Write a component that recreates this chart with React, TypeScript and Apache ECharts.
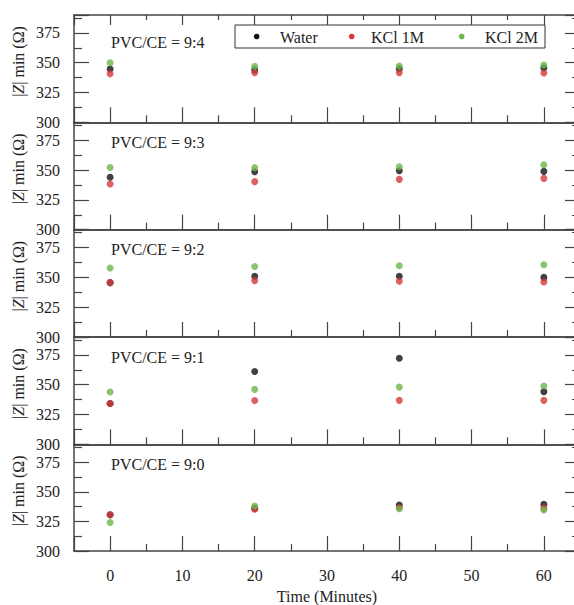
import React, { useEffect, useRef } from 'react';
import * as echarts from 'echarts';

// ---- data ----
const times = [0, 20, 40, 60];
const panelLabels = ['PVC/CE = 9:4', 'PVC/CE = 9:3', 'PVC/CE = 9:2', 'PVC/CE = 9:1', 'PVC/CE = 9:0'];
const seriesNames = ['Water', 'KCl 1M', 'KCl 2M'];
const water = [
  [344.7, 344.0, 345.0, 345.5],
  [343.9, 348.6, 349.4, 348.9],
  [345.6, 350.9, 350.9, 350.0],
  [334.2, 361.1, 372.2, 344.2],
  [330.6, 336.0, 338.8, 339.5],
];
const kcl1 = [
  [340.8, 341.7, 341.7, 341.4],
  [338.3, 340.3, 342.2, 343.0],
  [345.6, 347.3, 346.7, 346.2],
  [334.2, 336.7, 336.9, 336.9],
  [330.6, 335.3, 336.5, 336.2],
];
const kcl2 = [
  [350.0, 347.0, 347.3, 348.0],
  [352.2, 352.0, 352.7, 354.4],
  [357.8, 359.2, 359.7, 360.6],
  [343.9, 346.1, 348.0, 348.9],
  [324.0, 338.0, 335.6, 334.7],
];
const yTickLabels = [300, 325, 350, 375];
const yAxisTitle = '|{i|Z}| min (Ω)';

// ---- layout / style ----
const LEFT = 74;
const PLOT_W = 506;
const TOP = 15;
const PANEL_H = 107.34;
const FONT = 'Liberation Serif';
const AXIS_COLOR = '#444';
const TEXT_COLOR = '#222';
const COLORS = ['#111111', '#d43a3a', '#6cb64c'];
const LEGEND_BOX = { x: 235, y: 25, w: 310, h: 23 };
const LEGEND_DOT_X = [256.7, 351.7, 461.7];
const LEGEND_TEXT_X = [280, 371, 485];

export default function App() {
  const ref = useRef<HTMLDivElement>(null);
  useEffect(() => {
    const chart = echarts.init(ref.current!, null, { renderer: 'svg' });
    const grids: any[] = [];
    const xAxes: any[] = [];
    const yAxes: any[] = [];
    const series: any[] = [];
    const graphics: any[] = [];
    const lineStyle = { color: AXIS_COLOR, width: 1.5 };
    const tickStyle = { color: AXIS_COLOR, width: 1.2 };
    const allData = [water, kcl1, kcl2];

    for (let i = 0; i < 5; i++) {
      const top = TOP + i * PANEL_H;
      const isBottom = i === 4;
      grids.push({ left: LEFT, top, width: PLOT_W, height: PANEL_H });
      xAxes.push({
        gridIndex: i, type: 'value', min: -5, max: 65, splitNumber: 7, position: 'bottom',
        axisLine: { show: true, onZero: false, lineStyle },
        axisTick: { show: true, inside: true, length: 15, lineStyle: tickStyle },
        minorTick: { show: true, splitNumber: 2, length: 7, lineStyle: tickStyle },
        splitLine: { show: false },
        axisLabel: {
          show: isBottom, showMinLabel: false, showMaxLabel: false, margin: 16,
          fontFamily: FONT, fontSize: 16, color: TEXT_COLOR,
        },
        name: isBottom ? 'Time (Minutes)' : '',
        nameLocation: 'middle', nameGap: 37,
        nameTextStyle: { fontFamily: FONT, fontSize: 16, color: TEXT_COLOR },
      });
      xAxes.push({
        gridIndex: i, type: 'value', min: -5, max: 65, splitNumber: 7, position: 'top',
        axisLine: { show: true, onZero: false, lineStyle },
        axisTick: { show: i === 0, inside: true, length: 10, lineStyle: tickStyle },
        minorTick: { show: i === 0, splitNumber: 2, length: 5, lineStyle: tickStyle },
        splitLine: { show: false },
        axisLabel: { show: false },
      });
      yAxes.push({
        gridIndex: i, type: 'value', min: yTickLabels[0], max: 390, interval: 25, position: 'left',
        axisLine: { show: true, onZero: false, lineStyle },
        axisTick: { show: true, inside: true, length: 15, lineStyle: tickStyle },
        minorTick: { show: true, splitNumber: 2, length: 8, lineStyle: tickStyle },
        splitLine: { show: false },
        axisLabel: {
          showMaxLabel: false, margin: 14, fontFamily: FONT, fontSize: 16, color: TEXT_COLOR,
          formatter: (v: number) => (yTickLabels.indexOf(v) >= 0 ? String(v) : ''),
        },
      });
      yAxes.push({
        gridIndex: i, type: 'value', min: yTickLabels[0], max: 390, interval: 25, position: 'right',
        axisLine: { show: true, onZero: false, lineStyle },
        axisTick: { show: true, inside: true, length: 15, lineStyle: tickStyle },
        minorTick: { show: true, splitNumber: 2, length: 8, lineStyle: tickStyle },
        splitLine: { show: false },
        axisLabel: { show: false },
      });
      for (let s = 0; s < 3; s++) {
        series.push({
          type: 'scatter', name: seriesNames[s],
          xAxisIndex: 2 * i, yAxisIndex: 2 * i,
          symbol: 'circle', symbolSize: 7,
          itemStyle: { color: COLORS[s] },
          data: times.map((t, k) => [t, allData[s][i][k]]),
          z: 2 + s,
        });
      }
      graphics.push({
        type: 'text', x: 111, y: top + (i === 0 ? 27.5 : 20),
        style: {
          text: panelLabels[i], fontFamily: FONT, fontSize: 16, fill: TEXT_COLOR,
          verticalAlign: 'middle', align: 'left',
        },
      });
      graphics.push({
        type: 'text', x: 18, y: top + 46.5, rotation: Math.PI / 2,
        style: {
          text: yAxisTitle, fontFamily: FONT, fontSize: 16, fill: TEXT_COLOR,
          align: 'center', verticalAlign: 'middle',
          rich: { i: { fontFamily: FONT, fontSize: 16, fontStyle: 'italic', fill: TEXT_COLOR } },
        },
      });
    }

    // legend box
    const legendChildren: any[] = [
      {
        type: 'rect',
        shape: { x: LEGEND_BOX.x, y: LEGEND_BOX.y, width: LEGEND_BOX.w, height: LEGEND_BOX.h },
        style: { fill: '#fff', stroke: '#333', lineWidth: 1 },
      },
    ];
    seriesNames.forEach((nm, s) => {
      const cy = LEGEND_BOX.y + LEGEND_BOX.h / 2;
      legendChildren.push({
        type: 'circle', shape: { cx: LEGEND_DOT_X[s], cy, r: 2.8 },
        style: { fill: COLORS[s] },
      });
      legendChildren.push({
        type: 'text', x: LEGEND_TEXT_X[s], y: cy + 0.5,
        style: {
          text: nm, fontFamily: FONT, fontSize: 16, fill: TEXT_COLOR,
          align: 'left', verticalAlign: 'middle',
        },
      });
    });
    graphics.push({ type: 'group', z: 100, children: legendChildren });

    chart.setOption({
      animation: false,
      backgroundColor: '#fff',
      grid: grids,
      xAxis: xAxes,
      yAxis: yAxes,
      series,
      graphic: graphics,
    });
    return () => chart.dispose();
  }, []);
  return (
    <div
      style={{
        position: 'fixed', left: 0, top: 0, width: 574, height: 605,
        overflow: 'hidden', background: '#fff',
      }}
    >
      <div ref={ref} style={{ width: 590, height: 605 }} />
    </div>
  );
}
